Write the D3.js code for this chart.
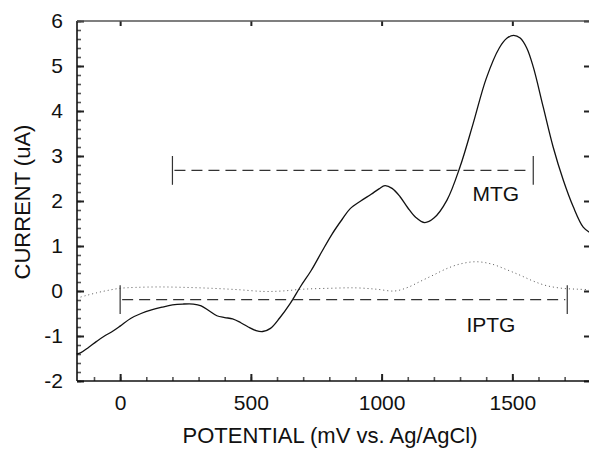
<!DOCTYPE html>
<html>
<head>
<meta charset="utf-8">
<script src="https://cdn.jsdelivr.net/npm/d3@7"></script>
<style>
  body { margin: 0; background: #fff; }
  svg { font-family: "Liberation Sans", Arial, sans-serif; }
</style>
</head>
<body>
<div id="chart"></div>
<script>
// MTG scan (solid line)
const mtgX = [-166, -150, -120, -90, -60, -30, 0, 40, 80, 120, 160, 200, 240, 280, 310, 340, 370, 400, 430, 460, 490, 520, 545, 575, 610, 650, 690, 730, 770, 810, 850, 880, 920, 960, 990, 1013, 1040, 1070, 1100, 1130, 1165, 1200, 1250, 1300, 1350, 1400, 1450, 1480, 1505, 1530, 1555, 1580, 1618, 1656, 1695, 1733, 1771, 1797];
const mtgY = [-1.40, -1.37, -1.25, -1.12, -1.00, -0.90, -0.78, -0.61, -0.50, -0.42, -0.36, -0.31, -0.29, -0.29, -0.33, -0.44, -0.55, -0.59, -0.62, -0.70, -0.80, -0.88, -0.90, -0.83, -0.60, -0.28, 0.10, 0.45, 0.86, 1.26, 1.60, 1.83, 2.00, 2.15, 2.27, 2.34, 2.28, 2.10, 1.85, 1.64, 1.52, 1.62, 2.02, 2.76, 3.72, 4.72, 5.40, 5.62, 5.68, 5.62, 5.40, 4.98, 4.09, 3.20, 2.46, 1.87, 1.42, 1.30];

// IPTG scan (dotted line)
const iptgX = [-166, -130, -90, -50, 0, 60, 150, 250, 350, 450, 550, 620, 700, 800, 900, 980, 1050, 1100, 1150, 1200, 1250, 1300, 1360, 1420, 1480, 1530, 1580, 1630, 1690, 1750, 1797];
const iptgY = [-0.16, -0.10, -0.04, 0.01, 0.06, 0.08, 0.09, 0.08, 0.06, 0.03, -0.01, 0.00, 0.04, 0.06, 0.07, 0.04, 0.00, 0.08, 0.22, 0.36, 0.50, 0.60, 0.65, 0.60, 0.47, 0.35, 0.22, 0.12, 0.06, 0.04, 0.03];

// range markers (dashed)
const markerLabels = ["MTG", "IPTG"];
const markerStart = [200, 0];
const markerEnd = [1580, 1710];
const markerLevel = [2.68, -0.19];
const labelX = [1437, 1418];
const labelY = [2.01, -0.91];

const xTicks = [0, 500, 1000, 1500];
const xMinor = d3.range(-100, 1800, 100);
const yTicks = [-2, -1, 0, 1, 2, 3, 4, 5, 6];
const yMinor = d3.range(-20, 61, 2).map(v => v / 10);

const W = 589, H = 454;
const margin = { top: 21, right: -1, bottom: 73, left: 77 };

const svg = d3.select("#chart").append("svg")
    .attr("width", W)
    .attr("height", H);

const x = d3.scaleLinear().domain([-165, 1797]).range([margin.left, W - margin.right]);
const y = d3.scaleLinear().domain([-2, 6]).range([H - margin.bottom, margin.top]);

const plain = d => String(d);

// bottom axis: minor + major ticks pointing inward
svg.append("g")
    .attr("class", "minor")
    .attr("transform", `translate(0,${y(-2)})`)
    .call(d3.axisBottom(x).tickValues(xMinor).tickSize(-4).tickFormat(""));
svg.append("g")
    .attr("transform", `translate(0,${y(-2)})`)
    .call(d3.axisBottom(x).tickValues(xTicks).tickSize(-7).tickPadding(14).tickFormat(plain));

// top axis
svg.append("g")
    .attr("transform", `translate(0,${y(6)})`)
    .call(d3.axisTop(x).tickValues(xTicks).tickSize(-5).tickFormat(""));

// left axis
svg.append("g")
    .attr("class", "minor")
    .attr("transform", `translate(${x.range()[0]},0)`)
    .call(d3.axisLeft(y).tickValues(yMinor).tickSize(-4).tickFormat(""));
svg.append("g")
    .attr("transform", `translate(${x.range()[0]},0)`)
    .call(d3.axisLeft(y).tickValues(yTicks).tickSize(-7).tickPadding(14).tickFormat(plain));

// right axis ticks only
svg.append("g")
    .attr("transform", `translate(${W},0)`)
    .call(d3.axisRight(y).tickValues(yTicks).tickSize(-5).tickFormat(""));

svg.selectAll(".domain").remove();
svg.selectAll(".tick line").attr("stroke", "#222").attr("stroke-width", 2);
svg.selectAll(".minor .tick line").attr("stroke", "#555").attr("stroke-width", 1.6);
svg.selectAll(".tick text").attr("font-size", 21).attr("fill", "#111");

// frame lines: bottom, left, top
svg.append("line")
    .attr("x1", x.range()[0]).attr("x2", x.range()[1])
    .attr("y1", y(-2)).attr("y2", y(-2))
    .attr("stroke", "#111").attr("stroke-width", 1.6);
svg.append("line")
    .attr("x1", x.range()[0]).attr("x2", x.range()[0])
    .attr("y1", y(-2)).attr("y2", y(6))
    .attr("stroke", "#111").attr("stroke-width", 1.6);
svg.append("line")
    .attr("x1", x.range()[0]).attr("x2", x.range()[1])
    .attr("y1", y(6)).attr("y2", y(6))
    .attr("stroke", "#555").attr("stroke-width", 1.5);

// curves
const line = d3.line()
    .x(d => x(d[0]))
    .y(d => y(d[1]))
    .curve(d3.curveCatmullRom.alpha(0.5));

svg.append("path")
    .datum(d3.zip(iptgX, iptgY))
    .attr("d", line)
    .attr("fill", "none")
    .attr("stroke", "#555")
    .attr("stroke-width", 1)
    .attr("stroke-dasharray", "1,3");

svg.append("path")
    .datum(d3.zip(mtgX, mtgY))
    .attr("d", line)
    .attr("fill", "none")
    .attr("stroke", "#111")
    .attr("stroke-width", 1.3);

// markers
markerLabels.forEach((lab, i) => {
    const g = svg.append("g").attr("stroke", "#333").attr("stroke-width", 1.2);
    g.append("line")
        .attr("x1", x(markerStart[i]) + 2).attr("x2", x(markerEnd[i]) - 2)
        .attr("y1", y(markerLevel[i])).attr("y2", y(markerLevel[i]))
        .attr("stroke-dasharray", "11,6");
    [markerStart[i], markerEnd[i]].forEach(v => {
        g.append("line")
            .attr("x1", x(v)).attr("x2", x(v))
            .attr("y1", y(markerLevel[i] + 0.32)).attr("y2", y(markerLevel[i] - 0.32));
    });
    svg.append("text")
        .attr("x", x(labelX[i]))
        .attr("y", y(labelY[i]))
        .attr("text-anchor", "middle")
        .attr("font-size", 21)
        .attr("fill", "#111")
        .text(lab);
});

// axis titles
svg.append("text")
    .attr("x", 330)
    .attr("y", 443)
    .attr("text-anchor", "middle")
    .attr("font-size", 22)
    .attr("fill", "#111")
    .text("POTENTIAL (mV vs. Ag/AgCl)");

svg.append("text")
    .attr("transform", `translate(30,${(y.range()[0] + y.range()[1]) / 2 + 1}) rotate(-90)`)
    .attr("text-anchor", "middle")
    .attr("font-size", 22)
    .attr("fill", "#111")
    .text("CURRENT (uA)");
</script>
</body>
</html>
